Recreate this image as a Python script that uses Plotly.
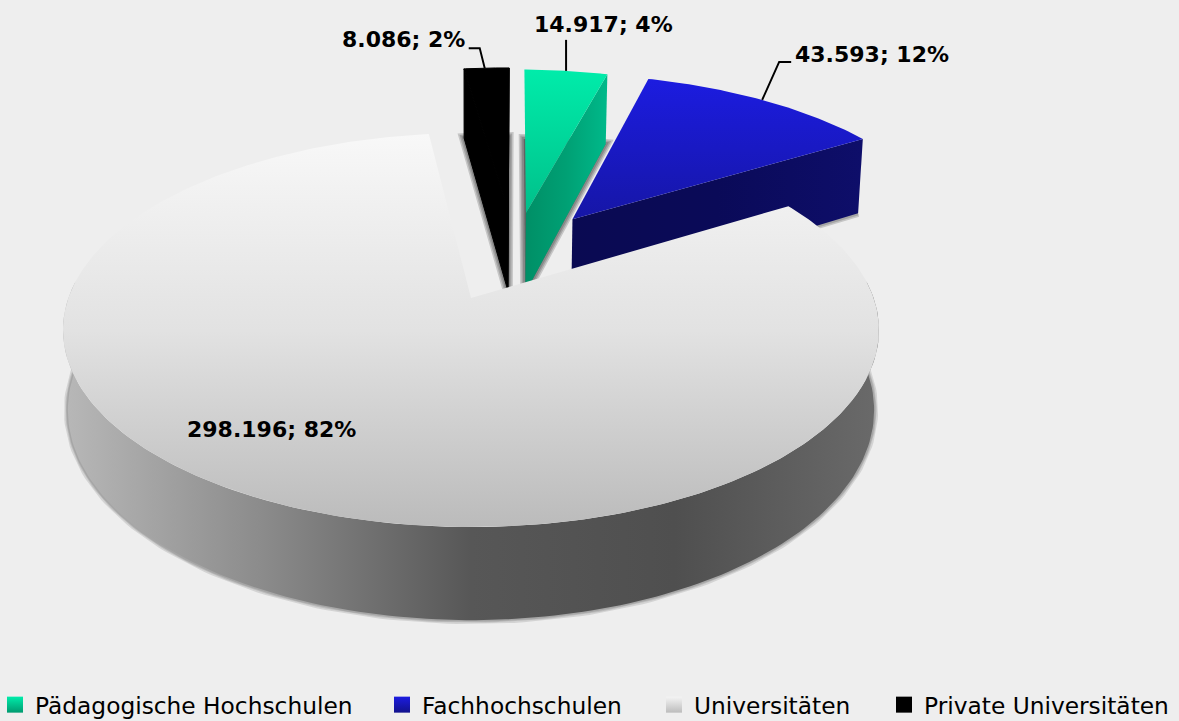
import numpy as np
import plotly.graph_objects as go

# ---- data ----
categories = ["Pädagogische Hochschulen", "Fachhochschulen", "Universitäten", "Private Universitäten"]
values = [14917, 43593, 298196, 8086]
first_slice_deg = 1.0

# ---- style / geometry ----
W, H = 1179, 721
CX, CY, RX, RY, P = 471, 298, 402.6, 191.8, 0.1625
DISK_H, SLICE_H, SHRINK = 78, 86, 0.988
explode = {0: (0.147, 0.477), 1: (0.27, 0.44), 2: (0, 0), 3: (0.10, 0.49)}
label_xy = {0: (603, 24), 1: (872, 54), 2: (271, 429), 3: (403, 39)}
legend_px = [-5, 382, 654, 884]
FONT = "DejaVu Sans"
BG = "#eeeeee"

total = sum(values)
ang = [first_slice_deg]
for v in values:
    ang.append(ang[-1] + v / total * 360)


def top(x0, y0, h=0.0):
    """Project plan coordinates on the image; h = drop below the top plane."""
    w = 1 + P * y0
    s = SHRINK if h else 1
    return CX + s * RX * x0 / w, CY - RY * y0 / w + h / w


def rim(i, deg, h=0.0, r=1.0):
    ex, ey = explode[i]
    a = np.radians(deg)
    return top(r * np.sin(a) + ex, r * np.cos(a) + ey, h)


def arc(i, a0, a1, h=0.0, n=160):
    pts = [rim(i, a, h) for a in np.linspace(a0, a1, n)]
    return [p[0] for p in pts], [p[1] for p in pts]


def poly(pts):
    xs = [p[0] for p in pts] + [pts[0][0]]
    ys = [p[1] for p in pts] + [pts[0][1]]
    return xs, ys


fig = go.Figure()


def grad(kind, *cols):
    return dict(type=kind, colorscale=[[k / (len(cols) - 1), c] for k, c in enumerate(cols)])


def filled(xs, ys, fillgrad=None, color=None, name="", line=None):
    kw = dict(fillgradient=fillgrad) if fillgrad else dict(fillcolor=color)
    fig.add_trace(go.Scatter(x=xs, y=ys, mode="lines", fill="toself", line=line or dict(width=0),
                             hoverinfo="skip", showlegend=False, name=name, **kw))


def shadow(xs, ys, close=True, widths=(7, 5, 3), alpha=0.11):
    for w_ in widths:
        fig.add_trace(go.Scatter(x=xs, y=ys, mode="lines", fill="toself" if close else None,
                                 fillcolor="rgba(0,0,0,0.10)",
                                 line=dict(width=w_, color=f"rgba(0,0,0,{alpha})"),
                                 hoverinfo="skip", showlegend=False))


iPH, iFH, iUNI, iPR = 0, 1, 2, 3

# --- soft shadows under the disk and under the exploded slices
bx, by = arc(iUNI, 88, 272, DISK_H)
shadow(bx, by, close=False, widths=(8, 5, 3))
for i in (iPH, iPR):
    ax, ay = rim(i, 0, SLICE_H, r=0)
    rx_, ry_ = arc(i, ang[i], ang[i + 1], SLICE_H, n=30)
    shadow([ax] + rx_ + [ax], [ay] + ry_ + [ay], widths=(10, 7, 4), alpha=0.17)
rbx, rby = rim(iFH, ang[iFH + 1], SLICE_H)
rax, ray = rim(iFH, 0, SLICE_H, r=0)
shadow([rax, rbx], [ray, rby], close=False, widths=(7, 4), alpha=0.17)

# --- outer wall of the large slice
tx, ty = arc(iUNI, 85, 275)
bx, by = arc(iUNI, 85, 275, DISK_H)
filled(tx + bx[::-1] + [tx[0]], ty + by[::-1] + [ty[0]],
       grad("horizontal", "#b8b8b8", "#8a8a8a", "#575757", "#4f4f4f", "#6a6a6a"))

# --- radial walls of the exploded slices
apex_b = rim(iFH, 0, SLICE_H, r=0)
apex_t = rim(iFH, 0, 0, r=0)
xs, ys = poly([apex_t, rim(iFH, ang[iFH + 1]), rim(iFH, ang[iFH + 1], SLICE_H), apex_b])
filled(xs, ys, grad("horizontal", "#0a0a52", "#0a0a58", "#0e0e6a"))

apex_b = rim(iPH, 0, SLICE_H, r=0)
apex_t = rim(iPH, 0, 0, r=0)
xs, ys = poly([apex_t, rim(iPH, ang[iPH + 1]), rim(iPH, ang[iPH + 1], SLICE_H), apex_b])
filled(xs, ys, grad("horizontal", "#008f66", "#00a074", "#00b98a"))

black_line = dict(width=1, color="#000000")
apex_b = rim(iPR, 0, SLICE_H, r=0)
apex_t = rim(iPR, 0, 0, r=0)
xs, ys = poly([apex_t, rim(iPR, ang[iPR]), rim(iPR, ang[iPR], SLICE_H), apex_b])
filled(xs, ys, color="#000000", line=black_line)
xs, ys = poly([apex_t, rim(iPR, ang[iPR + 1]), rim(iPR, ang[iPR + 1], SLICE_H), apex_b])
filled(xs, ys, color="#000000", line=black_line)

# --- top faces (the y axis is reversed, so the colour stops run bottom to top)
top_grad = {
    iUNI: grad("vertical", "#bbbbbb", "#e2e2e2", "#f8f8f8"),
    iFH: grad("vertical", "#1616a6", "#1c1ce0"),
    iPH: grad("vertical", "#00c08a", "#00ecaa"),
    iPR: grad("vertical", "#000000", "#000000"),
}
for i in (iUNI, iFH, iPH, iPR):
    ax, ay = rim(i, 0, 0, r=0)
    a1 = ang[i + 1]
    rx_, ry_ = arc(i, ang[i], a1, n=400 if i == iUNI else 60)
    filled([ax] + rx_ + [ax], [ay] + ry_ + [ay], top_grad[i], name=categories[i],
           line=black_line if i == iPR else None)

# --- leader lines
lead = {
    iPR: [(-5, -20), (-16, -20)],
    iPH: [(0, -31)],
    iFH: [(17, -38), (29, -38)],
}
lead_frac = {iPR: 0.46, iPH: 0.50, iFH: 0.49}
for i, steps in lead.items():
    sx, sy = rim(i, ang[i] + (ang[i + 1] - ang[i]) * lead_frac[i])
    fig.add_trace(go.Scatter(x=[sx] + [sx + d[0] for d in steps], y=[sy] + [sy + d[1] for d in steps],
                             mode="lines", line=dict(color="#000000", width=2),
                             hoverinfo="skip", showlegend=False))

# --- data labels
for i, v in enumerate(values):
    txt = f"{v:,}".replace(",", ".") + f"; {round(v / total * 100)}%"
    fig.add_annotation(x=label_xy[i][0], y=label_xy[i][1], text=txt, showarrow=False,
                       xanchor="center", yanchor="middle",
                       font=dict(family=FONT, size=22, color="#000000", weight="bold"))

# --- legend: one native legend per entry to keep the reference's spacing
swatch = {
    iPH: ("#00ecaa", "#009a70"),
    iFH: ("#1c1ce0", "#12128c"),
    iUNI: ("#f4f4f4", "#bcbcbc"),
    iPR: ("#000000", "#000000"),
}
layout_legends = {}
for k, i in enumerate((iPH, iFH, iUNI, iPR)):
    key = "legend" if k == 0 else f"legend{k + 1}"
    fig.add_trace(go.Scatter(x=[None], y=[None], mode="markers", name=categories[i], legend=key,
                             marker=dict(symbol="square", size=16, color=swatch[i][0],
                                         gradient=dict(type="vertical", color=swatch[i][1]),
                                         line=dict(width=0))))
    layout_legends[key] = dict(x=legend_px[k] / W, xanchor="left", y=1 - 705 / H, yanchor="middle",
                               bgcolor="rgba(0,0,0,0)", borderwidth=0, itemsizing="trace",
                               itemclick=False, itemdoubleclick=False,
                               font=dict(family=FONT, size=23.3, color="#000000"))

fig.update_layout(
    width=W, height=H, paper_bgcolor=BG, plot_bgcolor=BG,
    margin=dict(l=0, r=0, t=0, b=0, pad=0, autoexpand=False),
    xaxis=dict(range=[0, W], visible=False, fixedrange=True),
    yaxis=dict(range=[H, 0], visible=False, fixedrange=True),
    showlegend=True,
    **layout_legends,
)
fig.write_html("out.html", config={"displayModeBar": False},
               post_script="document.body.style.margin='0';document.body.style.overflow='hidden';")
